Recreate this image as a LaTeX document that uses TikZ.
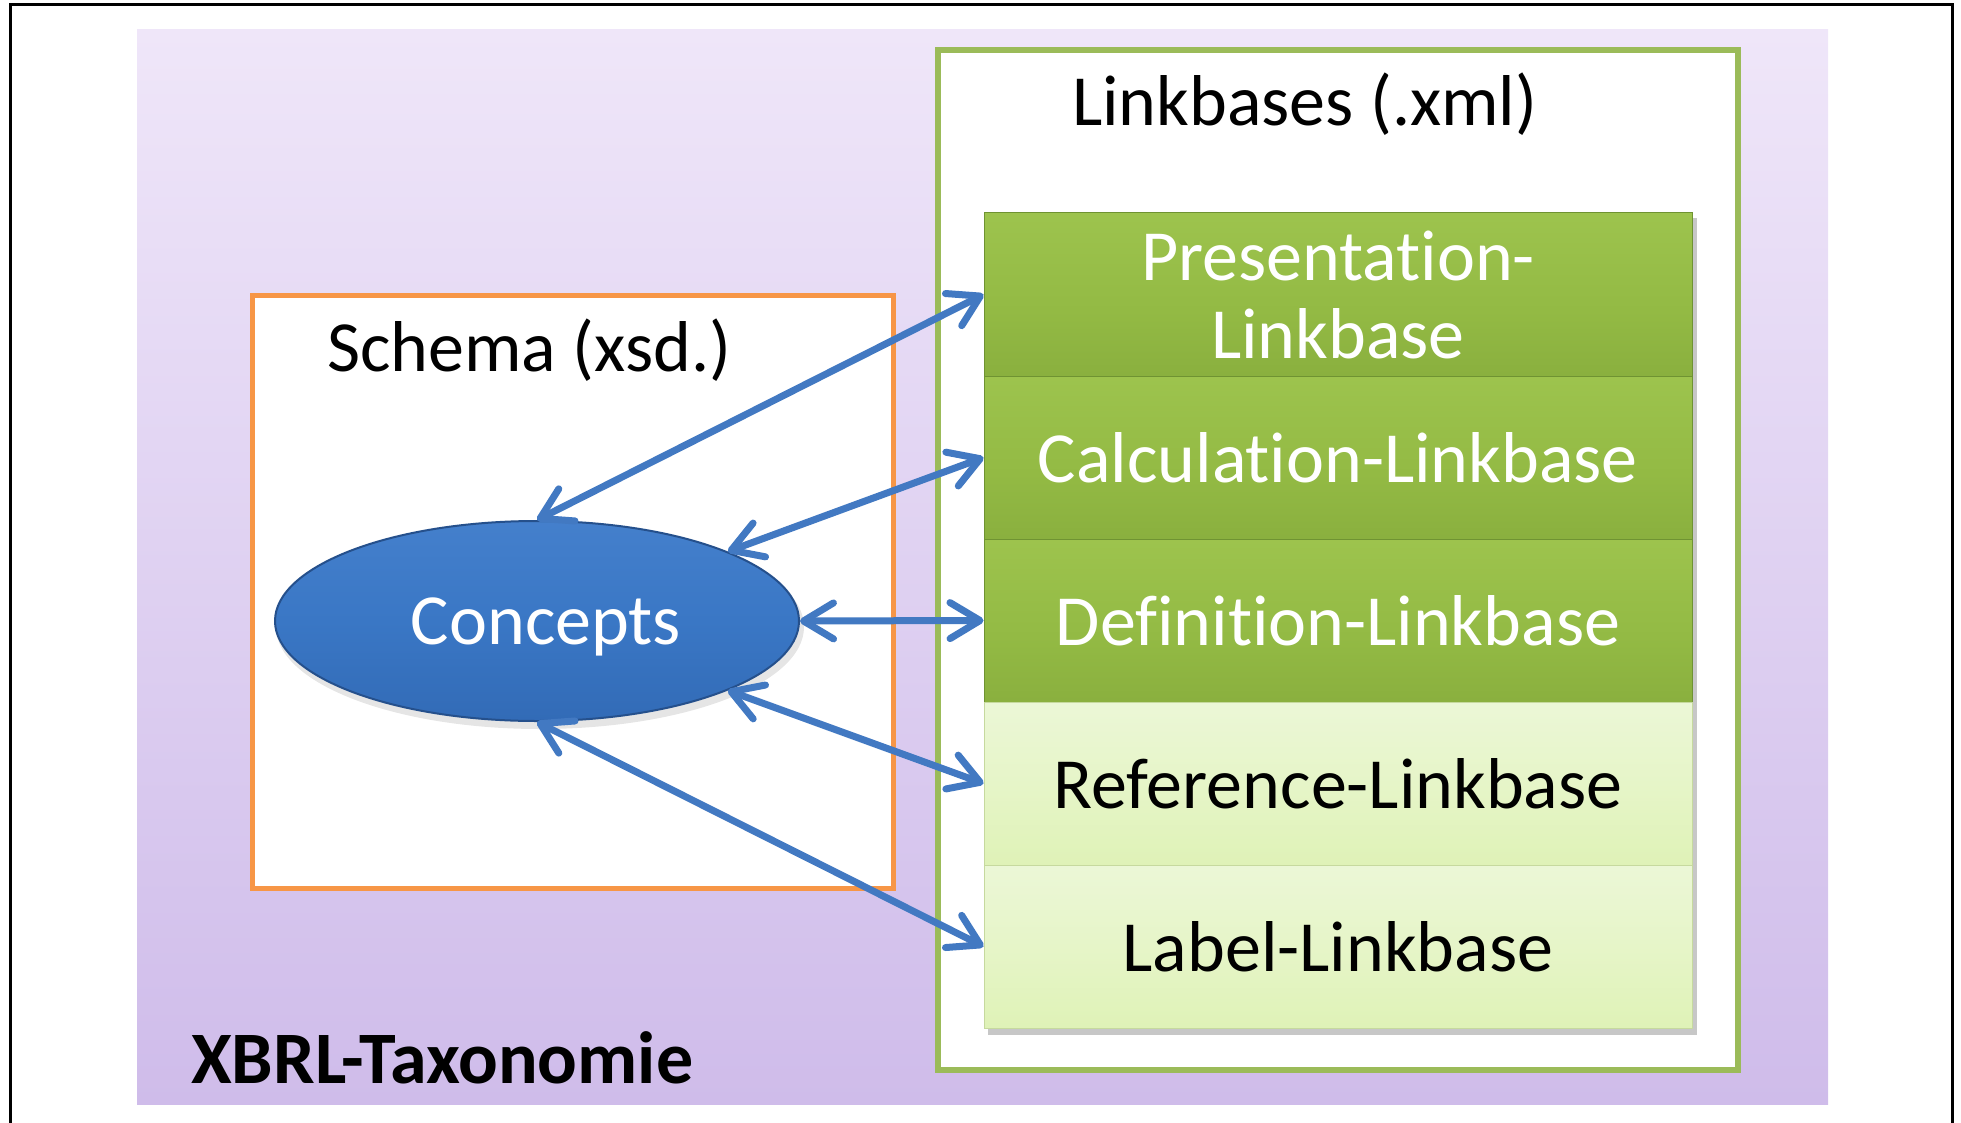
\documentclass[tikz,border=0pt]{standalone}
\usepackage{fontspec}
\setmainfont{Carlito}[Ligatures={NoCommon,NoContextual}]
\usetikzlibrary{arrows.meta,shapes.geometric}
\definecolor{bgtop}{HTML}{EFE6F9}
\definecolor{bgbot}{HTML}{CFBCEA}
\definecolor{lbgreen}{HTML}{9BBB59}
\definecolor{schorange}{HTML}{F79646}
\definecolor{arrowblue}{HTML}{4279C2}
\definecolor{dkA}{HTML}{6F9332}
\definecolor{dkB}{HTML}{84A93B}
\definecolor{dkC}{HTML}{93BA44}
\definecolor{dkD}{HTML}{A2C852}
\definecolor{dkE}{HTML}{B5D868}
\definecolor{ltA}{HTML}{D8EFA6}
\definecolor{ltB}{HTML}{E6F5C8}
\definecolor{ltC}{HTML}{F1F9E5}
\definecolor{elA}{HTML}{2A5FA8}
\definecolor{elB}{HTML}{3A77C5}
\definecolor{elC}{HTML}{4E88D3}
\definecolor{elborder}{HTML}{25508C}
\pgfdeclareverticalshading{darkgreen}{100bp}{color(0bp)=(dkA); color(12bp)=(dkB); color(45bp)=(dkC); color(90bp)=(dkD); color(97bp)=(dkE); color(100bp)=(dkD)}
\pgfdeclareverticalshading{lightgreen}{100bp}{color(0bp)=(ltA); color(50bp)=(ltB); color(100bp)=(ltC)}
\pgfdeclareverticalshading{blueell}{100bp}{color(0bp)=(elA); color(50bp)=(elB); color(100bp)=(elC)}
\begin{document}
\begin{tikzpicture}[x=1pt,y=-1pt,
  bigfont/.style={font=\fontsize{72}{78}\selectfont},
  darkbox/.style={shading=darkgreen, draw=dkA, line width=1pt, minimum width=708pt, minimum height=163pt, inner sep=0pt, text=white, align=center, bigfont},
  lightbox/.style={shading=lightgreen, draw=ltA!80!gray, line width=1pt, minimum width=708pt, minimum height=163pt, inner sep=0pt, text=black, align=center, bigfont},
  link/.style={draw=arrowblue, line width=7pt, {Straight Barb[length=30pt,width=36pt,line cap=round,line join=round]}-{Straight Barb[length=30pt,width=36pt,line cap=round,line join=round]}}
]
\useasboundingbox (0,0) rectangle (1961,1123);
% outer black frame
\draw[line width=3pt] (10,1123) -- (10,5) -- (1952,5) -- (1952,1123);
% purple background
\fill[top color=bgtop, bottom color=bgbot] (137,30) rectangle (1828,1104);
% Linkbases container
\node[draw=lbgreen, fill=white, line width=6pt, minimum width=800pt, minimum height=1020pt, inner sep=0pt] (lbframe) at (1338,560) {};
\node[bigfont, anchor=base west, inner sep=0pt] (lbtitle) at (1072,126) {Linkbases (.xml)};
% shadow of box stack
\fill[black, opacity=0.22] (988,218) rectangle (1697,1035);
% linkbase boxes
\node[darkbox, text depth=0pt] (pres) at (1338,294.5) {Presentation-\\Linkbase};
\node[darkbox, text depth=0pt] (calc) at (1338,457.5) {Calculation-Linkbase};
\node[darkbox, text depth=0pt] (def)  at (1338,620.5) {Definition-Linkbase};
\node[lightbox, text depth=0pt] (ref) at (1338,783.5) {Reference-Linkbase};
\node[lightbox, text depth=0pt] (lab) at (1338,946.5) {Label-Linkbase};
% schema box
\node[draw=schorange, fill=white, line width=5pt, minimum width=641pt, minimum height=593pt, inner sep=0pt] (schema) at (572.5,591.5) {};
\node[bigfont, anchor=base west, inner sep=0pt] (schtitle) at (327,371) {Schema (xsd.)};
% concepts ellipse
\fill[black, opacity=0.10] (540,627) ellipse [x radius=264pt, y radius=102pt];
\node[ellipse, shading=blueell, draw=elborder, line width=2pt, minimum width=524pt, minimum height=200pt, inner sep=0pt, text=white, bigfont, text depth=0pt] (concepts) at (537,621) {\hspace*{18pt}Concepts};
% taxonomy label
\node[font=\fontsize{74}{80}\selectfont\bfseries, anchor=base west, inner sep=0pt] (xbrl) at (191,1083) {XBRL-Taxonomie};
% links
\draw[link] (concepts.north) -- (pres.west);
\draw[link] (concepts.20) -- (calc.west);
\draw[link] (concepts.east) -- (def.west);
\draw[link] (concepts.-20) -- (ref.west);
\draw[link] (concepts.south) -- (lab.west);
\end{tikzpicture}
\end{document}
